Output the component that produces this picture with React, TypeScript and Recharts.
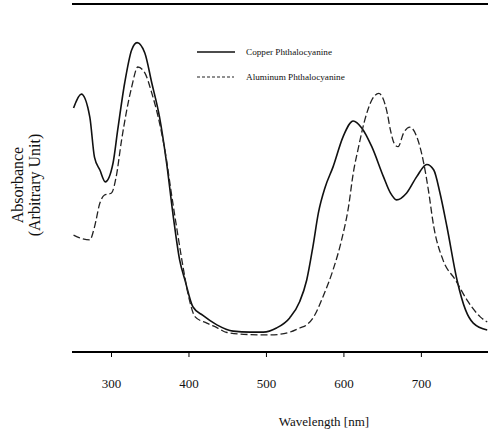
import React from 'react';
import { LineChart, Line, XAxis, YAxis, ReferenceLine } from 'recharts';

// Copper Phthalocyanine (solid)
const copperWavelengths = [251, 261, 272, 278, 285, 292, 302, 308, 317, 326, 333, 343, 352, 362, 371, 380, 388, 395, 405, 418, 436, 457, 479, 496, 513, 530, 543, 552, 560, 567, 576, 586, 599, 612, 623, 636, 651, 660, 668, 681, 694, 707, 716, 724, 733, 746, 757, 767, 785];
const copperAbsorbance = [70.1, 74.1, 67.5, 56.0, 52.3, 48.9, 54.3, 63.8, 77.3, 86.8, 88.9, 85.9, 77.3, 67.5, 54.5, 38.5, 26.4, 20.5, 13.0, 10.5, 7.8, 6.0, 5.7, 5.7, 6.9, 9.8, 14.5, 20.7, 30.3, 39.9, 47.5, 53.2, 61.9, 66.4, 64.4, 59.0, 50.4, 45.7, 43.7, 45.7, 50.4, 53.9, 52.3, 45.7, 36.0, 20.7, 12.1, 8.3, 6.3];

// Aluminum Phthalocyanine (dashed)
const aluminumWavelengths = [251, 259, 272, 278, 285, 291, 300, 306, 313, 319, 326, 334, 343, 352, 362, 371, 376, 386, 393, 400, 408, 423, 436, 449, 479, 505, 530, 543, 552, 561, 573, 586, 597, 606, 612, 619, 627, 636, 645, 656, 660, 666, 670, 677, 685, 694, 703, 709, 716, 728, 744, 759, 776, 785];
const aluminumAbsorbance = [33.6, 32.8, 32.2, 35.9, 42.8, 45.1, 45.7, 50.3, 60.9, 68.7, 76.1, 81.9, 80.2, 74.4, 65.8, 55.2, 47.5, 33.1, 23.6, 15.5, 10.1, 8.3, 7.0, 5.6, 5.0, 4.9, 5.7, 6.9, 7.8, 10.1, 15.9, 23.6, 32.2, 41.8, 51.3, 59.0, 66.7, 72.4, 74.3, 68.6, 63.8, 59.5, 59.0, 62.9, 64.6, 61.9, 54.3, 46.6, 36.0, 26.4, 20.7, 14.9, 10.1, 8.6];

const xTicks = [300, 400, 500, 600, 700];
const seriesNames = ['Copper Phthalocyanine', 'Aluminum Phthalocyanine'];
const xTitle = 'Wavelength [nm]';
const yTitleLines = ['Absorbance', '(Arbitrary Unit)'];

const copperData = copperWavelengths.map((wl, i) => ({ wl, v: copperAbsorbance[i] }));
const aluminumData = aluminumWavelengths.map((wl, i) => ({ wl, v: aluminumAbsorbance[i] }));

const W = 488;
const H = 434;
const FONT = '"Liberation Serif", "DejaVu Serif", serif';

export default function App() {
  return (
    <div style={{ position: 'absolute', left: 0, top: 0, width: W, height: H, background: '#fff', overflow: 'hidden' }}>
      <LineChart width={W} height={H} margin={{ top: 4, right: 0, left: 72, bottom: 52 }}>
        <XAxis
          type="number"
          dataKey="wl"
          domain={[249, 786]}
          ticks={xTicks}
          allowDataOverflow
          height={30}
          tickSize={5}
          tickMargin={22}
          axisLine={{ stroke: '#000', strokeWidth: 2 }}
          tickLine={{ stroke: '#000', strokeWidth: 1 }}
          tick={{ fill: '#111', fontSize: 13, fontFamily: FONT }}
        />
        <YAxis
          type="number"
          domain={[0, 100]}
          width={0}
          tick={false}
          tickLine={false}
          axisLine={{ stroke: '#777', strokeWidth: 1 }}
        />
        <ReferenceLine y={100} stroke="#000" strokeWidth={2} />
        <Line
          data={copperData}
          dataKey="v"
          name={seriesNames[0]}
          type="monotone"
          stroke="#111"
          strokeWidth={1.6}
          dot={false}
          isAnimationActive={false}
        />
        <Line
          data={aluminumData}
          dataKey="v"
          name={seriesNames[1]}
          type="monotone"
          stroke="#222"
          strokeWidth={1.3}
          strokeDasharray="7 3"
          dot={false}
          isAnimationActive={false}
        />
      </LineChart>
      <svg
        width={W}
        height={H}
        style={{ position: 'absolute', left: 0, top: 0, pointerEvents: 'none' }}
      >
        <line x1={197} y1={52} x2={235} y2={52} stroke="#111" strokeWidth={1.6} />
        <text x={246} y={52} fontSize={9.2} fontFamily={FONT} fill="#111" dominantBaseline="central">
          {seriesNames[0]}
        </text>
        <line x1={197} y1={77} x2={234} y2={77} stroke="#222" strokeWidth={1.2} strokeDasharray="3 2" />
        <text x={246} y={77} fontSize={9.2} fontFamily={FONT} fill="#111" dominantBaseline="central">
          {seriesNames[1]}
        </text>
        <text
          x={17.5}
          y={185}
          fontSize={16}
          fontFamily={FONT}
          fill="#111"
          textAnchor="middle"
          dominantBaseline="central"
          transform="rotate(-90 17.5 185)"
        >
          {yTitleLines[0]}
        </text>
        <text
          x={34}
          y={185}
          fontSize={16}
          fontFamily={FONT}
          fill="#111"
          textAnchor="middle"
          dominantBaseline="central"
          transform="rotate(-90 34 185)"
        >
          {yTitleLines[1]}
        </text>
        <text x={324} y={421} fontSize={13} fontFamily={FONT} fill="#111" textAnchor="middle" dominantBaseline="central">
          {xTitle}
        </text>
      </svg>
    </div>
  );
}
